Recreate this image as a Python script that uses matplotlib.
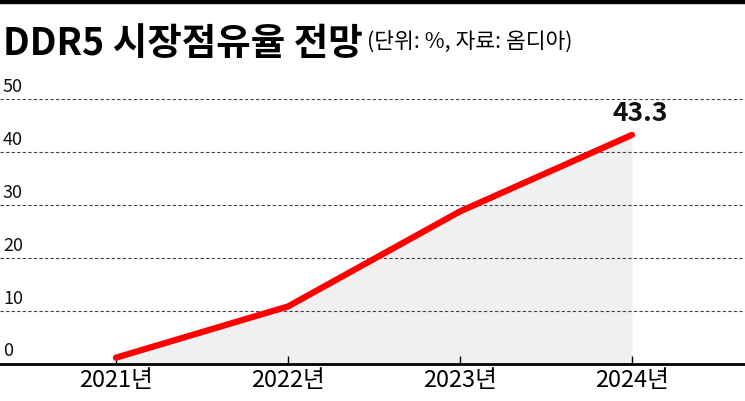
import matplotlib
matplotlib.use("Agg")
import matplotlib.pyplot as plt

plt.rcParams['font.family'] = ['Noto Sans CJK KR', 'DejaVu Sans']

# data
years = ["2021년", "2022년", "2023년", "2024년"]
share = [1.1, 10.8, 28.8, 43.3]
y_ticks = [0, 10, 20, 30, 40, 50]

x = list(range(len(years)))

fig = plt.figure(figsize=(7.45, 4.01), dpi=100)
ax = fig.add_axes([0, 0.0935, 1, 0.6584])

# shaded area and line
ax.fill_between(x, share, 0, color="#f0f0f0", linewidth=0, zorder=1)
ax.plot(x, share, color="#ff0000", linewidth=4.5, solid_capstyle="round",
        solid_joinstyle="round", zorder=3)

# dashed grid lines + y labels sitting on them
for t in y_ticks:
    if t > 0:
        ax.axhline(t, color="#444444", linewidth=0.8, linestyle=(0, (3, 2)), zorder=2)
    ax.text(0.004, t + 0.6, str(t), transform=ax.get_yaxis_transform(),
            fontsize=13, ha="left", va="bottom", color="#111111")

# last value label
ax.text(x[-1] + 0.05, share[-1] + 1.4, f"{share[-1]}", ha="center", va="bottom",
        fontsize=19, fontweight="bold", color="#111111")

ax.set_xlim(-0.674, 3.657)
ax.set_ylim(0, 50)
ax.set_yticks([])
ax.set_xticks(x)
ax.set_xticklabels(years, fontsize=17)
ax.tick_params(axis="x", direction="in", length=6, width=1, color="black", pad=4)
for s in ["top", "right", "left"]:
    ax.spines[s].set_visible(False)
ax.spines["bottom"].set_linewidth(2)
ax.spines["bottom"].set_zorder(4)

# title and source
fig.text(0.004, 0.94, "DDR5 시장점유율 전망", fontsize=27, fontweight="black",
         ha="left", va="top")
fig.text(0.492, 0.925, "(단위: %, 자료: 옴디아)", fontsize=15.5, ha="left", va="top")

# thin black bar at top
fig.add_artist(plt.Rectangle((0, 0.993), 1, 0.007, transform=fig.transFigure,
                             color="black"))

fig.savefig("out.png", dpi=100)
